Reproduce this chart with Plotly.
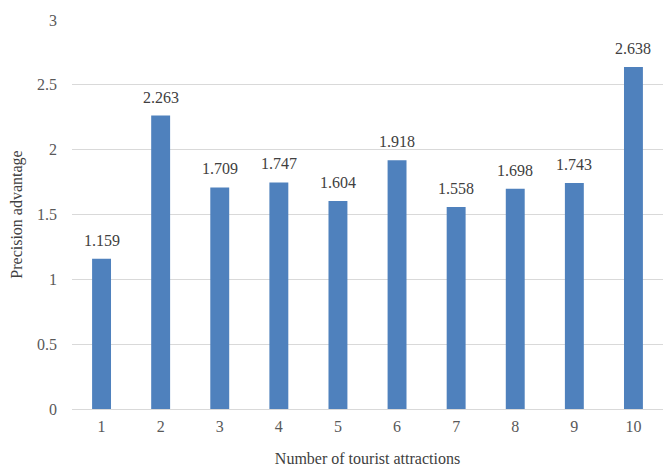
import plotly.graph_objects as go

categories = ["1", "2", "3", "4", "5", "6", "7", "8", "9", "10"]
precision_advantage = [1.159, 2.263, 1.709, 1.747, 1.604, 1.918, 1.558, 1.698, 1.743, 2.638]
value_labels = ["1.159", "2.263", "1.709", "1.747", "1.604", "1.918", "1.558", "1.698", "1.743", "2.638"]

font_family = "Liberation Serif, Times New Roman, serif"

fig = go.Figure(
    go.Bar(
        x=categories,
        y=precision_advantage,
        marker=dict(color="#4F81BD", line=dict(width=0)),
        width=0.32,
        hoverinfo="x+y",
    )
)

# value labels sitting above each bar (x given as the category index)
for idx, (val, lab) in enumerate(zip(precision_advantage, value_labels)):
    fig.add_annotation(
        x=idx,
        y=val,
        text=lab,
        showarrow=False,
        yanchor="bottom",
        yshift=8,
        font=dict(family=font_family, size=16, color="#404040"),
    )

fig.update_layout(
    width=665,
    height=467,
    margin=dict(l=72, r=2, t=20, b=58),
    paper_bgcolor="white",
    plot_bgcolor="white",
    showlegend=False,
    font=dict(family=font_family, size=16, color="#595959"),
)

fig.update_xaxes(
    type="category",
    categoryorder="array",
    categoryarray=categories,
    showgrid=False,
    showline=True,
    linecolor="#D9D9D9",
    linewidth=1,
    ticks="",
    ticklabelstandoff=3,
    tickfont=dict(family=font_family, size=16, color="#595959"),
    title=dict(text="Number of tourist attractions", font=dict(family=font_family, size=16, color="#404040"), standoff=19),
)

fig.update_yaxes(
    range=[0, 3],
    dtick=0.5,
    showgrid=True,
    gridcolor="#D9D9D9",
    gridwidth=1,
    zeroline=False,
    showline=False,
    ticks="",
    ticklabelstandoff=14,
    tickfont=dict(family=font_family, size=16, color="#595959"),
    title=dict(text="Precision advantage", font=dict(family=font_family, size=16, color="#404040"), standoff=10),
)

fig.write_html("out.html")
